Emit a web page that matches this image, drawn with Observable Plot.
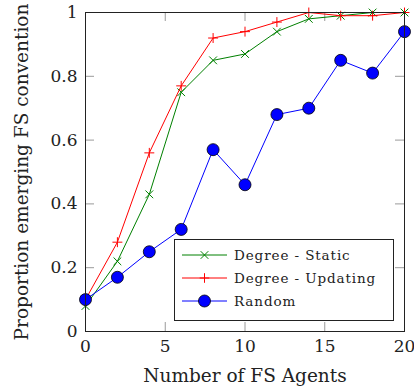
<!DOCTYPE html>
<html>
<head>
<meta charset="utf-8">
<script src="https://cdn.jsdelivr.net/npm/d3@7"></script>
<script src="https://cdn.jsdelivr.net/npm/@observablehq/plot@0.6"></script>
<style>
  html, body { margin: 0; padding: 0; background: #fff; }
  svg { display: block; }
</style>
</head>
<body>
<div id="chart"></div>
<script>
const agents = [0, 2, 4, 6, 8, 10, 12, 14, 16, 18, 20];
const degreeStatic = [0.08, 0.22, 0.43, 0.75, 0.85, 0.87, 0.94, 0.98, 0.99, 1.0, 1.0];
const degreeUpdating = [0.10, 0.28, 0.56, 0.77, 0.92, 0.94, 0.97, 1.0, 0.99, 0.99, 1.0];
const randomVals = [0.10, 0.17, 0.25, 0.32, 0.57, 0.46, 0.68, 0.70, 0.85, 0.81, 0.94];
const seriesNames = ["Degree - Static", "Degree - Updating", "Random"];
const xTicks = [0, 5, 10, 15, 20];
const yTicks = [0, 0.2, 0.4, 0.6, 0.8, 1];

const GREEN = "#008000", RED = "#ff0000", BLUE = "#0000ff";
const W = 414, H = 386, mL = 85, mR = 10, mT = 12, mB = 55;
const fw = W - mL - mR, fh = H - mT - mB, tk = 9;
const xMax = 20, yMax = 1;
const tx = xMax * tk / fw, ty = yMax * tk / fh; // tick length in data units

const mk = (vals) => agents.map((x, i) => ({x, y: vals[i]}));
const sStatic = mk(degreeStatic), sUpd = mk(degreeUpdating), sRand = mk(randomVals);
const tickColor = "#9a9a9a";
const SERIF = "'DejaVu Serif', serif";

const chart = Plot.plot({
  width: W, height: H,
  marginLeft: mL, marginRight: mR, marginTop: mT, marginBottom: mB,
  style: {fontFamily: SERIF, fontSize: "17px", color: "#222", background: "#fff"},
  x: {domain: [0, xMax]},
  y: {domain: [0, yMax]},
  marks: [
    Plot.ruleX(xTicks, {x: d => d, y1: 0, y2: ty, stroke: tickColor}),
    Plot.ruleX(xTicks, {x: d => d, y1: yMax - ty, y2: yMax, stroke: tickColor}),
    Plot.ruleY(yTicks, {y: d => d, x1: 0, x2: tx, stroke: tickColor}),
    Plot.ruleY(yTicks, {y: d => d, x1: xMax - tx, x2: xMax, stroke: tickColor}),
    Plot.axisX({ticks: xTicks, tickSize: 0, tickPadding: 8, tickFormat: d => String(d), fontSize: 17, label: null}),
    Plot.axisX({ticks: [], label: "Number of FS Agents", labelAnchor: "center", labelArrow: "none", labelOffset: 50, fontSize: 18.5}),
    Plot.axisY({ticks: yTicks, tickSize: 0, tickPadding: 8, tickFormat: d => String(d), fontSize: 17, label: null}),
    Plot.axisY({ticks: [], label: "Proportion emerging FS convention", labelAnchor: "center", labelArrow: "none", labelOffset: 71, fontSize: 18.5}),
    Plot.line(sStatic, {x: "x", y: "y", stroke: GREEN, strokeWidth: 1}),
    Plot.dot(sStatic, {x: "x", y: "y", symbol: "times", r: 3.6, stroke: GREEN, strokeWidth: 1}),
    Plot.line(sUpd, {x: "x", y: "y", stroke: RED, strokeWidth: 1}),
    Plot.dot(sUpd, {x: "x", y: "y", symbol: "plus", r: 3.3, stroke: RED, strokeWidth: 1}),
    Plot.line(sRand, {x: "x", y: "y", stroke: BLUE, strokeWidth: 1}),
    Plot.dot(sRand, {x: "x", y: "y", r: 6, fill: BLUE, stroke: "#000", strokeWidth: 0.8}),
    Plot.frame({stroke: "#222", strokeWidth: 1})
  ]
});
document.getElementById("chart").append(chart);

// Legend
const svg = d3.select(chart);
const lg = svg.append("g").attr("text-anchor", "start");
lg.append("rect").attr("x", 174.5).attr("y", 239.5).attr("width", 219).attr("height", 81)
  .attr("fill", "#fff").attr("stroke", "#222").attr("stroke-width", 1);
const rowsY = [255, 278, 301];
const colors = [GREEN, RED, BLUE];
seriesNames.forEach((name, i) => {
  const y = rowsY[i];
  lg.append("line").attr("x1", 182).attr("x2", 227).attr("y1", y).attr("y2", y)
    .attr("stroke", colors[i]).attr("stroke-width", 1);
  const cx = 204.5;
  if (i === 0) {
    const a = 3.8;
    lg.append("path").attr("d", `M${cx-a},${y-a}L${cx+a},${y+a}M${cx-a},${y+a}L${cx+a},${y-a}`)
      .attr("stroke", GREEN).attr("fill", "none");
  } else if (i === 1) {
    const a = 4.8;
    lg.append("path").attr("d", `M${cx-a},${y}L${cx+a},${y}M${cx},${y-a}L${cx},${y+a}`)
      .attr("stroke", RED).attr("fill", "none");
  } else {
    lg.append("circle").attr("cx", cx).attr("cy", y).attr("r", 6)
      .attr("fill", BLUE).attr("stroke", "#000").attr("stroke-width", 0.8);
  }
  lg.append("text").attr("x", 234).attr("y", y).attr("dy", "0.35em")
    .attr("text-anchor", "start")
    .style("font-family", SERIF).style("font-size", "13.5px")
    .style("letter-spacing", "0.9px").attr("fill", "#222").text(name);
});
</script>
</body>
</html>
